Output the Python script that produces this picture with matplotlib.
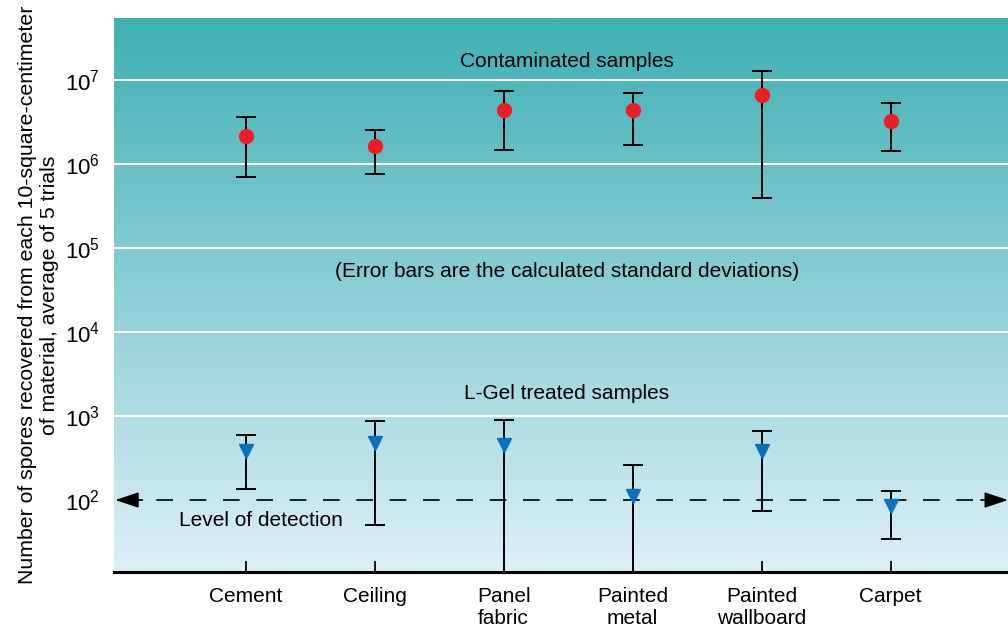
import matplotlib
matplotlib.use("Agg")
import matplotlib.pyplot as plt
from matplotlib.colors import LinearSegmentedColormap
import numpy as np

plt.rcParams['font.family'] = ['Liberation Sans', 'DejaVu Sans']

MATERIALS = ["Cement", "Ceiling", "Panel\nfabric", "Painted\nmetal", "Painted\nwallboard", "Carpet"]

# contaminated samples: mean, upper and lower end of error bar
CONTAM_MEAN = [2.17e6, 1.65e6, 4.36e6, 4.4e6, 6.6e6, 3.3e6]
CONTAM_HIGH = [3.6e6, 2.52e6, 7.5e6, 7.1e6, 1.29e7, 5.3e6]
CONTAM_LOW = [7.0e5, 7.7e5, 1.48e6, 1.69e6, 3.9e5, 1.42e6]

# L-Gel treated samples
GEL_MEAN = [386, 477, 448, 112, 386, 85]
GEL_HIGH = [599, 871, 896, 259, 657, 127]
GEL_LOW = [135, 50, 1, 1, 75, 34.6]

DETECTION_LEVEL = 100

fig = plt.figure(figsize=(10.08, 6.29), dpi=100)
ax = fig.add_axes([114 / 1008, 1 - 572 / 629, 894 / 1008, 554 / 629])

xs = np.arange(1, len(MATERIALS) + 1)
ax.set_yscale("log")
ymin, ymax = 10 ** 1.143, 10 ** 7.74
ax.set_ylim(ymin, ymax)
ax.set_xlim(-0.02, 6.91)

# gradient background
cmap = LinearSegmentedColormap.from_list("bg", ["#ddf0f8", "#8ecfd6", "#3eb0b4"])
grad = np.linspace(0, 1, 256).reshape(-1, 1)
ax.imshow(grad, aspect="auto", cmap=cmap, origin="lower",
          extent=[0, 1, 0, 1], transform=ax.transAxes, zorder=0)

for p in range(3, 8):
    ax.axhline(10 ** p, color="white", lw=1.5, zorder=1)

# level of detection
ax.plot([0.05, 6.86], [DETECTION_LEVEL, DETECTION_LEVEL], color="black", lw=1.2,
        dashes=(10, 10), zorder=2)
for x0, x1 in [(0.2, -0.01), (6.7, 6.91)]:
    ax.annotate("", xy=(x1, DETECTION_LEVEL), xytext=(x0, DETECTION_LEVEL),
                arrowprops=dict(arrowstyle="-|>,head_length=0.9,head_width=0.3",
                                color="black", lw=1.2,
                                mutation_scale=16, shrinkA=0, shrinkB=0), zorder=3)

cm = np.array(CONTAM_MEAN)
ax.errorbar(xs, cm, yerr=[cm - np.array(CONTAM_LOW), np.array(CONTAM_HIGH) - cm],
            fmt="o", color="#ee1c25", ms=10, ecolor="black", elinewidth=1.4,
            capsize=7, capthick=1.4, zorder=4)

gm = np.array(GEL_MEAN)
ax.errorbar(xs, gm, yerr=[gm - np.array(GEL_LOW), np.array(GEL_HIGH) - gm],
            fmt="v", color="#0a72bd", ms=10, ecolor="black", elinewidth=1.4,
            capsize=7, capthick=1.4, zorder=4)

ax.text(3.49, 10 ** 7.22, "Contaminated samples", ha="center", va="center", fontsize=15)
ax.text(3.49, 10 ** 4.72, "(Error bars are the calculated standard deviations)",
        ha="center", va="center", fontsize=15)
ax.text(3.49, 10 ** 3.27, "L-Gel treated samples", ha="center", va="center", fontsize=15)
ax.text(0.48, 10 ** 1.76, "Level of detection", ha="left", va="center", fontsize=15)

ax.set_xticks(xs)
ax.set_xticklabels(MATERIALS, fontsize=15, linespacing=1.2)
ax.tick_params(axis="x", direction="in", length=8, width=1.3, pad=11)
ax.set_yticks([10 ** p for p in range(2, 8)])
ax.minorticks_off()
ax.tick_params(axis="y", length=0, labelsize=16, pad=10)

for s in ["top", "left", "right"]:
    ax.spines[s].set_visible(False)
ax.spines["bottom"].set_linewidth(2.2)

ax.set_ylabel("Number of spores recovered from each 10-square-centimeter\nof material, average of 5 trials",
              fontsize=15.3, linespacing=1.2, labelpad=4)

fig.savefig("out.png", dpi=100)
